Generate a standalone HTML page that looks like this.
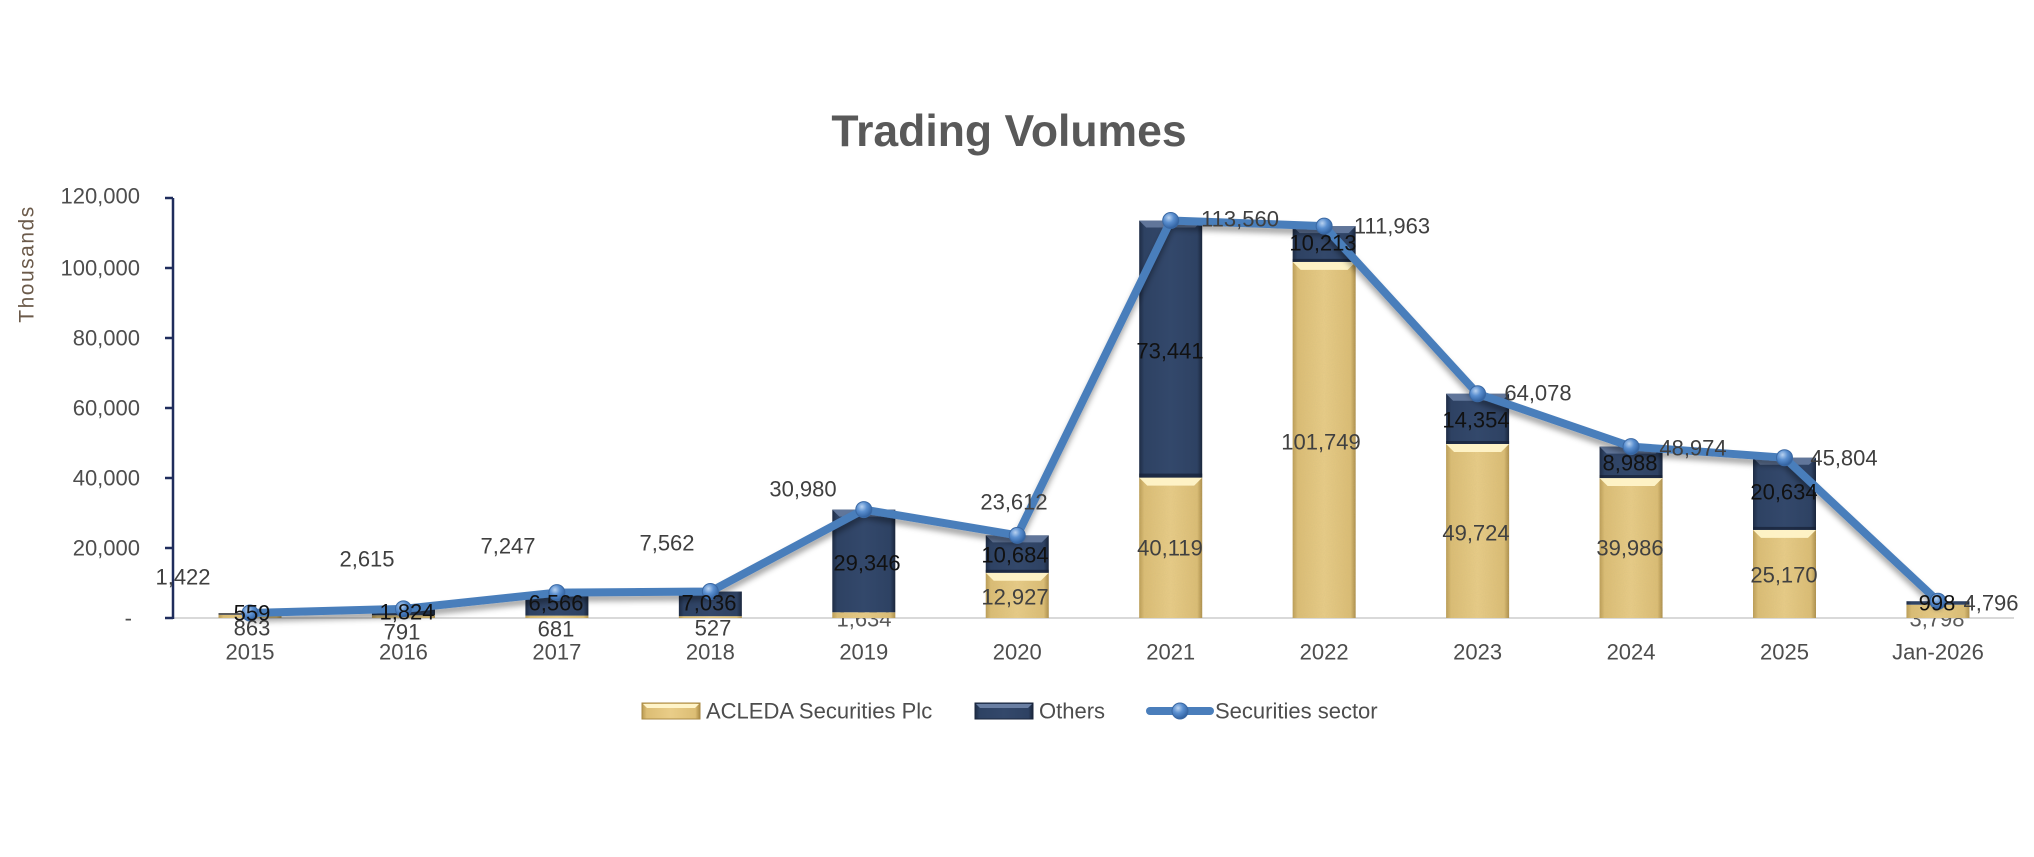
<!DOCTYPE html>
<html>
<head>
<meta charset="utf-8">
<style>
  html,body{margin:0;padding:0;background:#fff;}
  svg{display:block;}
  text{font-family:"Liberation Sans",Arial,sans-serif;}
</style>
</head>
<body>
<svg width="2034" height="857" viewBox="0 0 2034 857" xmlns="http://www.w3.org/2000/svg">
  <defs>
    <linearGradient id="gold" x1="0" y1="0" x2="1" y2="0">
      <stop offset="0" stop-color="#b99a52"/>
      <stop offset="0.08" stop-color="#dcbd74"/>
      <stop offset="0.5" stop-color="#e9cd88"/>
      <stop offset="0.92" stop-color="#dcbd74"/>
      <stop offset="1" stop-color="#a98a45"/>
    </linearGradient>
    <linearGradient id="dark" x1="0" y1="0" x2="1" y2="0">
      <stop offset="0" stop-color="#1e2c45"/>
      <stop offset="0.08" stop-color="#2e4263"/>
      <stop offset="0.5" stop-color="#33486b"/>
      <stop offset="0.92" stop-color="#2e4263"/>
      <stop offset="1" stop-color="#1a263c"/>
    </linearGradient>
    <radialGradient id="mk" cx="0.38" cy="0.32" r="0.7">
      <stop offset="0" stop-color="#b9d2f0"/>
      <stop offset="0.45" stop-color="#5a8fd0"/>
      <stop offset="1" stop-color="#2f5f9e"/>
    </radialGradient>
    <filter id="shadow" x="-5%" y="-20%" width="110%" height="140%">
      <feDropShadow dx="0" dy="5" stdDeviation="3" flood-color="#000" flood-opacity="0.35"/>
    </filter>
    <filter id="grain" x="0" y="0" width="100%" height="100%">
      <feTurbulence type="fractalNoise" baseFrequency="0.9" numOctaves="2" result="n"/>
      <feColorMatrix type="matrix" values="0 0 0 0 0.55  0 0 0 0 0.45  0 0 0 0 0.2  0 0 0 0.3 0" in="n" result="c"/>
      <feComposite in="c" in2="SourceGraphic" operator="in" result="t"/>
      <feMerge><feMergeNode in="SourceGraphic"/><feMergeNode in="t"/></feMerge>
    </filter>
  </defs>

  <!-- Title -->
  <text x="1009" y="146" font-size="44.5" font-weight="bold" fill="#595959" text-anchor="middle">Trading Volumes</text>

  <!-- Axis title -->
  <text transform="translate(27,264) rotate(-90)" font-size="21" fill="#6b5a4a" text-anchor="middle" dominant-baseline="central" letter-spacing="1.5">Thousands</text>

  <!-- Y tick labels -->
  <g font-size="22" fill="#4d4d4d" text-anchor="end" dominant-baseline="central">
    <text x="140" y="196">120,000</text>
    <text x="140" y="268">100,000</text>
    <text x="140" y="338">80,000</text>
    <text x="140" y="408">60,000</text>
    <text x="140" y="478">40,000</text>
    <text x="140" y="548">20,000</text>
    <text x="132" y="618">-</text>
  </g>

  <!-- Baseline -->
  <line x1="173" y1="618" x2="2014" y2="618" stroke="#d9d9d9" stroke-width="2"/>

  <!-- labels partially hidden beneath bars -->
  <g font-size="22" fill="#595959" text-anchor="middle" dominant-baseline="central">
    <text x="864" y="619">1,634</text>
    <text x="1937" y="619">3,798</text>
  </g>

  <!-- Bars: gold (ACLEDA) -->
  <g fill="url(#gold)" filter="url(#grain)">
    <rect x="218.5" y="614.98" width="63" height="3.02"/>
    <rect x="371.95" y="615.23" width="63" height="2.77"/>
    <rect x="525.4" y="615.62" width="63" height="2.38"/>
    <rect x="678.85" y="616.16" width="63" height="1.84"/>
    <rect x="832.3" y="612.28" width="63" height="5.72"/>
    <rect x="985.75" y="572.76" width="63" height="45.24"/>
    <rect x="1139.2" y="477.58" width="63" height="140.42"/>
    <rect x="1292.65" y="261.88" width="63" height="356.12"/>
    <rect x="1446.1" y="443.97" width="63" height="174.03"/>
    <rect x="1599.55" y="478.05" width="63" height="139.95"/>
    <rect x="1753" y="529.91" width="63" height="88.09"/>
    <rect x="1906.45" y="604.71" width="63" height="13.29"/>
  </g>
  <!-- gold bevels -->
  <g fill="#fff4c9" opacity="0.95">
    <polygon points="985.75,572.76 1048.75,572.76 1040.75,580.76 993.75,580.76"/>
    <polygon points="1139.2,477.58 1202.2,477.58 1194.2,485.58 1147.2,485.58"/>
    <polygon points="1292.65,261.88 1355.65,261.88 1347.65,269.88 1300.65,269.88"/>
    <polygon points="1446.1,443.97 1509.1,443.97 1501.1,451.97 1454.1,451.97"/>
    <polygon points="1599.55,478.05 1662.55,478.05 1654.55,486.05 1607.55,486.05"/>
    <polygon points="1753,529.91 1816,529.91 1808,537.91 1761,537.91"/>
  </g>

  <!-- Bars: dark (Others) -->
  <g fill="url(#dark)">
    <rect x="218.5" y="613.0" width="63" height="1.98" fill="#5c5c5c"/>
    <rect x="371.95" y="608.85" width="63" height="6.38"/>
    <rect x="525.4" y="592.64" width="63" height="22.98"/>
    <rect x="678.85" y="591.53" width="63" height="24.63"/>
    <rect x="832.3" y="509.57" width="63" height="102.71"/>
    <rect x="985.75" y="535.36" width="63" height="37.4"/>
    <rect x="1139.2" y="220.54" width="63" height="257.04"/>
    <rect x="1292.65" y="226.13" width="63" height="35.75"/>
    <rect x="1446.1" y="393.73" width="63" height="50.24"/>
    <rect x="1599.55" y="446.59" width="63" height="31.46"/>
    <rect x="1753" y="457.69" width="63" height="72.22"/>
    <rect x="1906.45" y="601.21" width="63" height="3.5"/>
  </g>
  <!-- dark bevels -->
  <g fill="#6a7fa3" opacity="0.85">
    <polygon points="832.3,509.57 895.3,509.57 888.3,516.57 839.3,516.57"/>
    <polygon points="985.75,535.36 1048.75,535.36 1041.75,542.36 992.75,542.36"/>
    <polygon points="1139.2,220.54 1202.2,220.54 1195.2,227.54 1146.2,227.54"/>
    <polygon points="1292.65,226.13 1355.65,226.13 1348.65,233.13 1299.65,233.13"/>
    <polygon points="1446.1,393.73 1509.1,393.73 1502.1,400.73 1453.1,400.73"/>
    <polygon points="1599.55,446.59 1662.55,446.59 1655.55,453.59 1606.55,453.59"/>
    <polygon points="1753,457.69 1816,457.69 1809,464.69 1760,464.69"/>
  </g>
  <g fill="#152034" opacity="0.7">
    <rect x="1139.2" y="473.58" width="63" height="4"/>
    <rect x="1292.65" y="258.88" width="63" height="3"/>
    <rect x="1446.1" y="440.97" width="63" height="3"/>
    <rect x="1599.55" y="475.05" width="63" height="3"/>
    <rect x="1753" y="526.91" width="63" height="3"/>
    <rect x="985.75" y="569.76" width="63" height="3"/>
  </g>

  <!-- Y axis -->
  <g stroke="#1f2d5c" stroke-width="2.5" fill="none">
    <line x1="173" y1="198" x2="173" y2="619"/>
    <line x1="165" y1="198" x2="173" y2="198"/>
    <line x1="165" y1="268" x2="173" y2="268"/>
    <line x1="165" y1="338" x2="173" y2="338"/>
    <line x1="165" y1="408" x2="173" y2="408"/>
    <line x1="165" y1="478" x2="173" y2="478"/>
    <line x1="165" y1="548" x2="173" y2="548"/>
    <line x1="165" y1="618" x2="173" y2="618"/>
  </g>

  <!-- Line series -->
  <polyline filter="url(#shadow)" fill="none" stroke="#4a7ebb" stroke-width="8" stroke-linejoin="round" stroke-linecap="round"
    points="250,613 403.45,608.85 556.9,592.64 710.35,591.53 863.8,509.57 1017.25,535.36 1170.7,220.54 1324.15,226.13 1477.6,393.73 1631.05,446.59 1784.5,457.69 1937.95,601.21"/>
  <g fill="url(#mk)" stroke="#3a68a3" stroke-width="1">
    <circle cx="250" cy="613" r="8"/>
    <circle cx="403.45" cy="608.85" r="8"/>
    <circle cx="556.9" cy="592.64" r="8"/>
    <circle cx="710.35" cy="591.53" r="8"/>
    <circle cx="863.8" cy="509.57" r="8"/>
    <circle cx="1017.25" cy="535.36" r="8"/>
    <circle cx="1170.7" cy="220.54" r="8"/>
    <circle cx="1324.15" cy="226.13" r="8"/>
    <circle cx="1477.6" cy="393.73" r="8"/>
    <circle cx="1631.05" cy="446.59" r="8"/>
    <circle cx="1784.5" cy="457.69" r="8"/>
    <circle cx="1937.95" cy="601.21" r="8"/>
  </g>

  <!-- Data labels: totals -->
  <g font-size="22" fill="#3f3f3f" text-anchor="middle" dominant-baseline="central">
    <text x="183" y="577">1,422</text>
    <text x="367" y="559">2,615</text>
    <text x="508" y="546">7,247</text>
    <text x="667" y="543">7,562</text>
    <text x="803" y="489">30,980</text>
    <text x="1014" y="502">23,612</text>
    <text x="1240" y="219">113,560</text>
    <text x="1392" y="226">111,963</text>
    <text x="1538" y="393">64,078</text>
    <text x="1693" y="448">48,974</text>
    <text x="1844" y="458">45,804</text>
    <text x="1991" y="603">4,796</text>
  </g>
  <!-- Data labels: gold segment -->
  <g font-size="22" fill="#404040" text-anchor="middle" dominant-baseline="central">
    <text x="252" y="628">863</text>
    <text x="402" y="632">791</text>
    <text x="556" y="629">681</text>
    <text x="713" y="628">527</text>
    <text x="1015" y="597">12,927</text>
    <text x="1170" y="548">40,119</text>
    <text x="1321" y="442">101,749</text>
    <text x="1476" y="533">49,724</text>
    <text x="1630" y="548">39,986</text>
    <text x="1784" y="575">25,170</text>
  </g>
  <!-- Data labels: dark segment -->
  <g font-size="22" fill="#111" text-anchor="middle" dominant-baseline="central">
    <text x="252" y="613">559</text>
    <text x="407" y="612">1,824</text>
    <text x="556" y="603">6,566</text>
    <text x="709" y="603">7,036</text>
    <text x="867" y="563">29,346</text>
    <text x="1015" y="555">10,684</text>
    <text x="1170" y="351">73,441</text>
    <text x="1323" y="243">10,213</text>
    <text x="1476" y="420">14,354</text>
    <text x="1630" y="463">8,988</text>
    <text x="1784" y="492">20,634</text>
    <text x="1937" y="603">998</text>
  </g>

  <!-- Category labels -->
  <g font-size="22" fill="#4d4d4d" text-anchor="middle" dominant-baseline="central">
    <text x="250" y="652">2015</text>
    <text x="403.45" y="652">2016</text>
    <text x="556.9" y="652">2017</text>
    <text x="710.35" y="652">2018</text>
    <text x="863.8" y="652">2019</text>
    <text x="1017.25" y="652">2020</text>
    <text x="1170.7" y="652">2021</text>
    <text x="1324.15" y="652">2022</text>
    <text x="1477.6" y="652">2023</text>
    <text x="1631.05" y="652">2024</text>
    <text x="1784.5" y="652">2025</text>
    <text x="1937.95" y="652">Jan-2026</text>
  </g>

  <!-- Legend -->
  <rect x="642" y="703" width="58" height="16" fill="url(#gold)" stroke="#a98a45" stroke-width="1"/>
  <polygon points="643,704 699,704 695,708 647,708" fill="#fff4c9"/>
  <rect x="975" y="703" width="58" height="16" fill="url(#dark)" stroke="#1a263c" stroke-width="1"/>
  <polygon points="976,704 1032,704 1028,708 980,708" fill="#6a7fa3"/>
  <line x1="1150" y1="711" x2="1210" y2="711" stroke="#4a7ebb" stroke-width="8" stroke-linecap="round"/>
  <circle cx="1180" cy="711" r="8" fill="url(#mk)" stroke="#3a68a3" stroke-width="1"/>
  <g font-size="22" fill="#4d4d4d" dominant-baseline="central">
    <text x="706" y="711">ACLEDA Securities Plc</text>
    <text x="1039" y="711">Others</text>
    <text x="1215" y="711">Securities sector</text>
  </g>
</svg>
</body>
</html>
